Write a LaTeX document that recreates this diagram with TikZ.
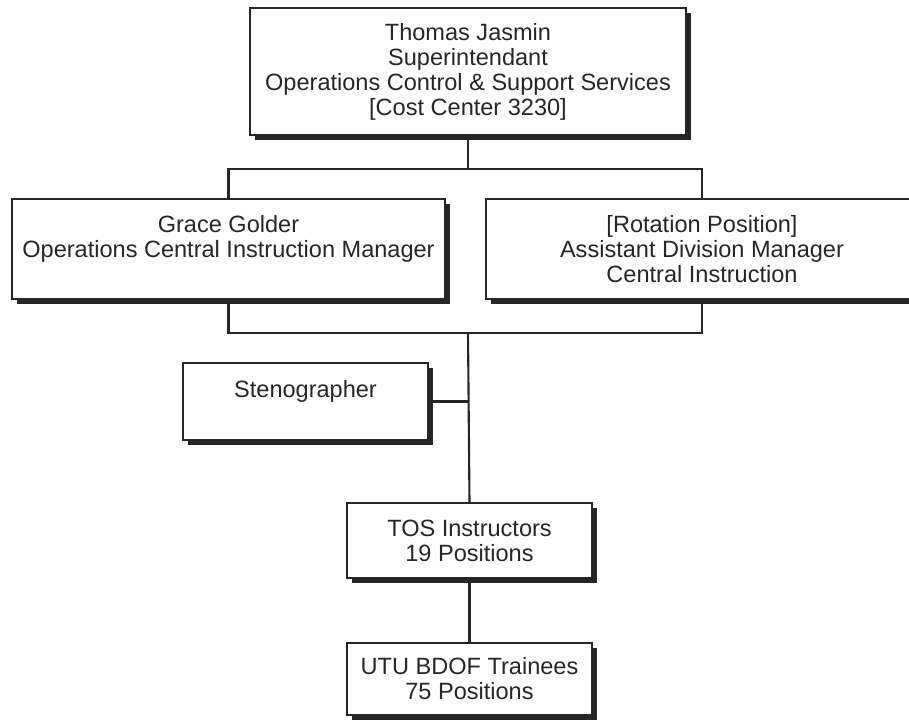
\documentclass[tikz,border=0pt]{standalone}
\usepackage{fontspec}
\setmainfont{Liberation Sans}
\usetikzlibrary{shadows}
\tikzset{
  orgbox/.style={draw=black!85, line width=0.8pt, fill=white, align=center,
    text=black!85, font=\fontsize{13.4}{14.2}\selectfont,
    drop shadow={opacity=1, fill=black!85, shadow xshift=0.1cm, shadow yshift=-0.1cm}},
  link/.style={draw=black!85, line width=1.2pt}
}
\begin{document}
\begin{tikzpicture}[x=0.02cm, y=-0.02cm]
\useasboundingbox (0,0) rectangle (909,721);
\clip (0,0) rectangle (909,721);

\node[orgbox, minimum width=8.72cm, minimum height=2.54cm] (head) at (468,71.5)
  {Thomas Jasmin\\Superintendant\\Operations Control \& Support Services\\{}[Cost Center 3230]};

\node[orgbox, minimum width=8.66cm, minimum height=2cm] (grace) at (228.5,249)
  {Grace Golder\\Operations Central Instruction Manager\\\mbox{}};
\node[orgbox, minimum width=8.64cm, minimum height=2cm] (rotation) at (702,249)
  {{}[Rotation Position]\\Assistant Division Manager\\Central Instruction};

\node[orgbox, minimum width=4.9cm, minimum height=1.54cm] (steno) at (305.5,401.5)
  {Stenographer\\\mbox{}};

\node[orgbox, minimum width=4.9cm, minimum height=1.5cm] (tos) at (469.5,540.5)
  {TOS Instructors\\19 Positions};
\node[orgbox, minimum width=4.9cm, minimum height=1.44cm] (utu) at (469.5,679)
  {UTU BDOF Trainees\\75 Positions};

\coordinate (bus1) at (468,169);
\coordinate (bus2) at (468,333);

\draw[link] (head.south) -- (bus1);
\draw[link] (grace.north) |- (bus1) -| (rotation.north);
\draw[link] (grace.south) |- (bus2) -| (rotation.south);
\draw[link] (bus2) -- (tos.north);
\draw[link] (steno.east) -- (steno.east -| bus2);
\draw[link] (tos.south) -- (utu.north);
\end{tikzpicture}
\end{document}
